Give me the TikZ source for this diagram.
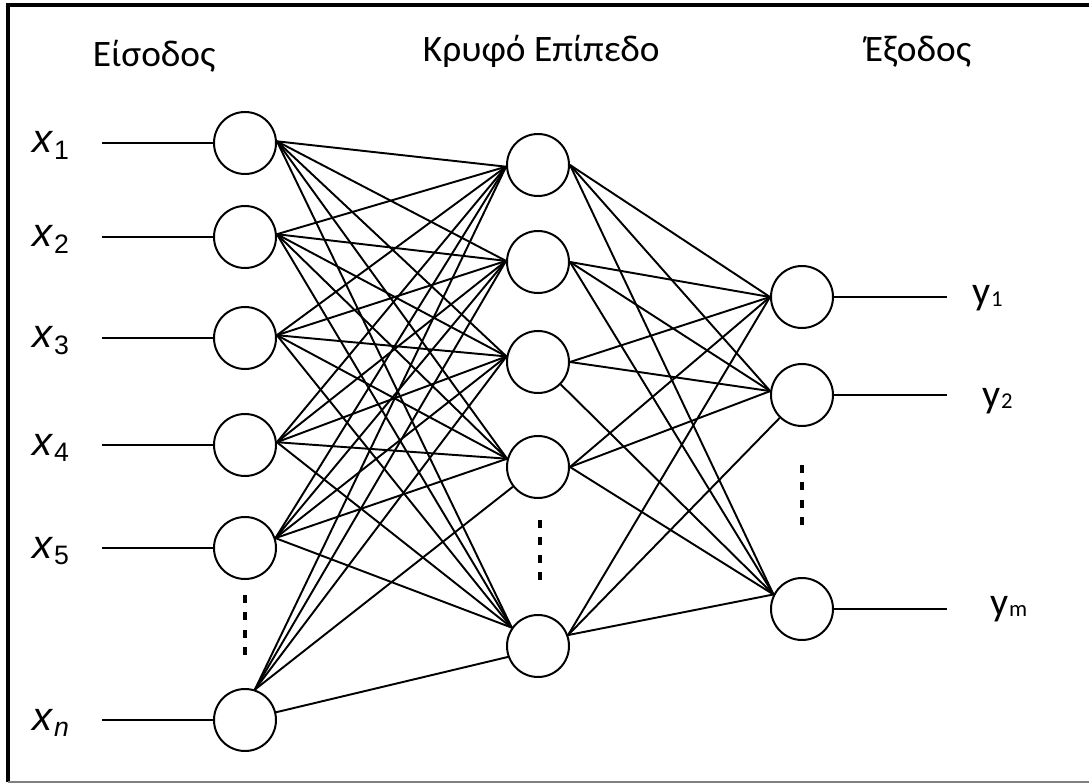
\documentclass[tikz,border=0pt]{standalone}
\usepackage{fontspec}
\setmainfont{Carlito}
\newfontfamily\helv{Liberation Sans}
\begin{document}
\begin{tikzpicture}[x=0.75pt,y=-0.75pt,line width=1.45pt,
  neuron/.style={circle,draw,line width=1.5pt,minimum size=46.5pt,inner sep=0pt},
  gap/.style={line width=2.6pt,dash pattern=on 6pt off 7pt},
  heading/.style={anchor=base west,inner sep=0pt,font=\fontsize{28}{28}\selectfont}]
  \useasboundingbox (0,0) rectangle (1089,784);
  %% Frame (open on the right)
  \draw[line width=2.4pt] (1089,5) -- (8,5) -- (8,782);
  \draw[gray,line width=1.8pt] (8,782) -- (1089,782);
  %% Layer headings
  \node[heading] (hin)  at (92,67)  {Είσοδος};
  \node[heading] (hhid) at (422,62) {Κρυφό Επίπεδο};
  \node[heading] (hout) at (864,62) {Έξοδος};
  %% Input layer: {i}/{y}/{subscript}
  \foreach \i/\yy/\sub in {1/143/1,2/237/2,3/338/3,4/445/4,5/548/5,6/720/\textit{n}}{
    \node[neuron] (in\i) at (245,\yy) {};
    \coordinate (xs\i) at (102,\yy);
    \draw (xs\i) -- (in\i);
    \node[anchor=base west,inner sep=0pt] (xl\i) at (32,\yy+10)
      {\helv\fontsize{30}{30}\selectfont\textit{x}\raisebox{-5pt}{\fontsize{20}{20}\selectfont\sub}};
  }
  %% Hidden layer
  \foreach \j/\yy in {1/165,2/262,3/362,4/467,5/646}{
    \node[neuron] (h\j) at (538,\yy) {};
  }
  %% Output layer: {k}/{y}/{label x}/{label base}/{subscript}
  \foreach \k/\yy/\lx/\ly/\sub in {1/297/972/305/1,2/395/982/407/2,3/609/990/615/m}{
    \node[neuron] (o\k) at (802,\yy) {};
    \coordinate (ys\k) at (947,\yy);
    \draw (o\k) -- (ys\k);
    \node[anchor=base west,inner sep=0pt] (yl\k) at (\lx,\ly)
      {\fontsize{30}{30}\selectfont y\raisebox{-1pt}{\fontsize{17}{17}\selectfont\sub}};
  }
  %% Input -> hidden links, leaving/entering at one port per node
  \foreach \i/\a in {1/3,2/5,3/5,4/5,5/18,6/72}{
    \foreach \j/\b in {1/183,2/178,3/170,4/165,5/145}{
      \ifnum\i\j<64 \draw (in\i.\a) -- (h\j.\b); \fi
    }
  }
  \draw (in6.72) -- (h4);
  \draw (in6.14) -- (h5.200);
  %% Hidden -> output links
  \foreach \j/\c in {1/0,2/0,3/0,4/0,5/20}{
    \foreach \k/\d in {1/180,2/173,3/153}{
      \ifnum\j\k=33 \draw (h3) -- (o3.153);
      \else\ifnum\j\k=52 \draw (h5.20) -- (o2);
      \else \draw (h\j.\c) -- (o\k.\d);
      \fi\fi
    }
  }
  %% Vertical dots between the last nodes
  \draw[gap] (245,595) -- (245,660);
  \draw[gap] (540,520) -- (540,586);
  \draw[gap] (802,465) -- (802,530);
\end{tikzpicture}
\end{document}
